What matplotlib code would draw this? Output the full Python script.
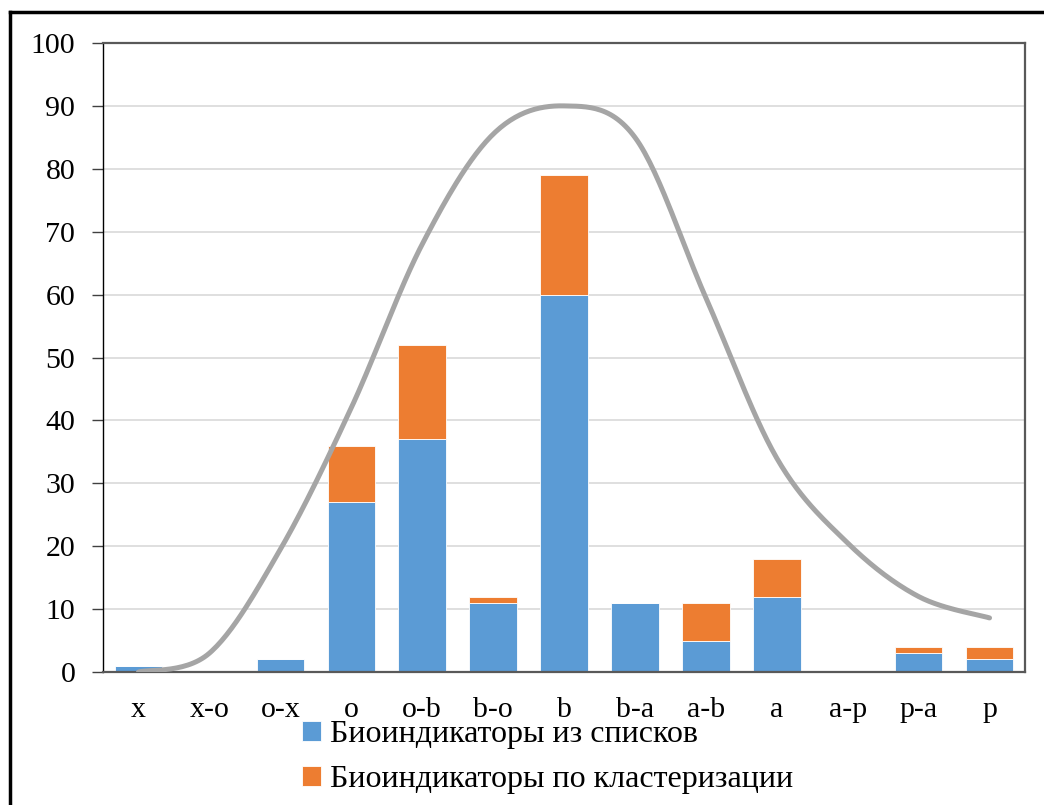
import matplotlib
matplotlib.use("Agg")
import matplotlib.pyplot as plt
from matplotlib.lines import Line2D
import numpy as np

plt.rcParams['font.family'] = ['Liberation Serif', 'DejaVu Serif']

# --- данные ---
categories = ['x', 'x-o', 'o-x', 'o', 'o-b', 'b-o', 'b', 'b-a', 'a-b', 'a', 'a-p', 'p-a', 'p']
from_lists = [1, 0, 2, 27, 37, 11, 60, 11, 5, 12, 0, 3, 2]
by_cluster = [0, 0, 0, 9, 15, 1, 19, 0, 6, 6, 0, 1, 2]
curve_vals = [0, 3, 19.5, 42, 68, 85.5, 90, 85, 59.5, 34, 20.5, 12, 8.6]
label_lists = 'Биоиндикаторы из списков'
label_cluster = 'Биоиндикаторы по кластеризации'

BLUE = '#5B9BD5'
ORANGE = '#ED7D31'
GRAY = '#A5A5A5'


def smooth(xs, ys, n=30):
    # сглаживание как в Excel (Catmull-Rom / Bezier)
    xs = np.asarray(xs, float)
    ys = np.asarray(ys, float)
    px = np.concatenate([[xs[0]], xs, [xs[-1]]])
    py = np.concatenate([[ys[0]], ys, [ys[-1]]])
    outx, outy = [], []
    t = np.linspace(0, 1, n)
    for i in range(1, len(px) - 2):
        p0 = np.array([px[i], py[i]])
        p3 = np.array([px[i + 1], py[i + 1]])
        c1 = p0 + (np.array([px[i + 1], py[i + 1]]) - np.array([px[i - 1], py[i - 1]])) / 6
        c2 = p3 - (np.array([px[i + 2], py[i + 2]]) - np.array([px[i], py[i]])) / 6
        b = ((1 - t) ** 3)[:, None] * p0 + (3 * (1 - t) ** 2 * t)[:, None] * c1 \
            + (3 * (1 - t) * t ** 2)[:, None] * c2 + (t ** 3)[:, None] * p3
        outx.extend(b[:, 0])
        outy.extend(b[:, 1])
    return outx, outy


fig = plt.figure(figsize=(10.44, 8.05), dpi=100)
ax = fig.add_axes([0.0987, 0.1652, 0.8831, 0.7814])

x = np.arange(len(categories))
ax.bar(x, from_lists, width=0.67, color=BLUE, edgecolor='white', linewidth=0.6,
       label=label_lists, zorder=2)
ax.bar(x, by_cluster, width=0.67, bottom=from_lists, color=ORANGE, edgecolor='white',
       linewidth=0.6, label=label_cluster, zorder=2)

sx, sy = smooth(x, curve_vals)
ax.plot(sx, sy, color=GRAY, linewidth=3.6, solid_capstyle='round', zorder=3)

ax.set_xlim(-0.5, len(categories) - 0.5)
ax.set_ylim(0, 100)
ax.set_yticks(range(0, 101, 10))
ax.set_xticks(x)
ax.set_xticklabels(categories)
ax.tick_params(axis='x', length=0, pad=18, labelsize=21.5)
ax.tick_params(axis='y', length=8, width=1, color='#404040', pad=12, labelsize=21.5)
ax.yaxis.grid(True, color='#D9D9D9', linewidth=1.2, zorder=0)
ax.set_axisbelow(True)

ax.spines['left'].set_color('#000000')
ax.spines['left'].set_linewidth(1.0)
for s in ['top', 'right', 'bottom']:
    ax.spines[s].set_color('#595959')
    ax.spines[s].set_linewidth(1.6)

leg = fig.legend(loc='upper left', bbox_to_anchor=(0.289, 0.105),
                 bbox_transform=fig.transFigure, frameon=False, fontsize=23,
                 handlelength=0.6, handleheight=0.6, handletextpad=0.3,
                 labelspacing=0.5, borderpad=0, borderaxespad=0)

# рамка рисунка
fig.add_artist(Line2D([10 / 1044, 1], [1 - 12 / 805, 1 - 12 / 805], color='black',
                      linewidth=2.5, transform=fig.transFigure))
fig.add_artist(Line2D([10 / 1044, 10 / 1044], [0, 1 - 12 / 805], color='black',
                      linewidth=2.5, transform=fig.transFigure))

fig.savefig('out.png', dpi=100)
